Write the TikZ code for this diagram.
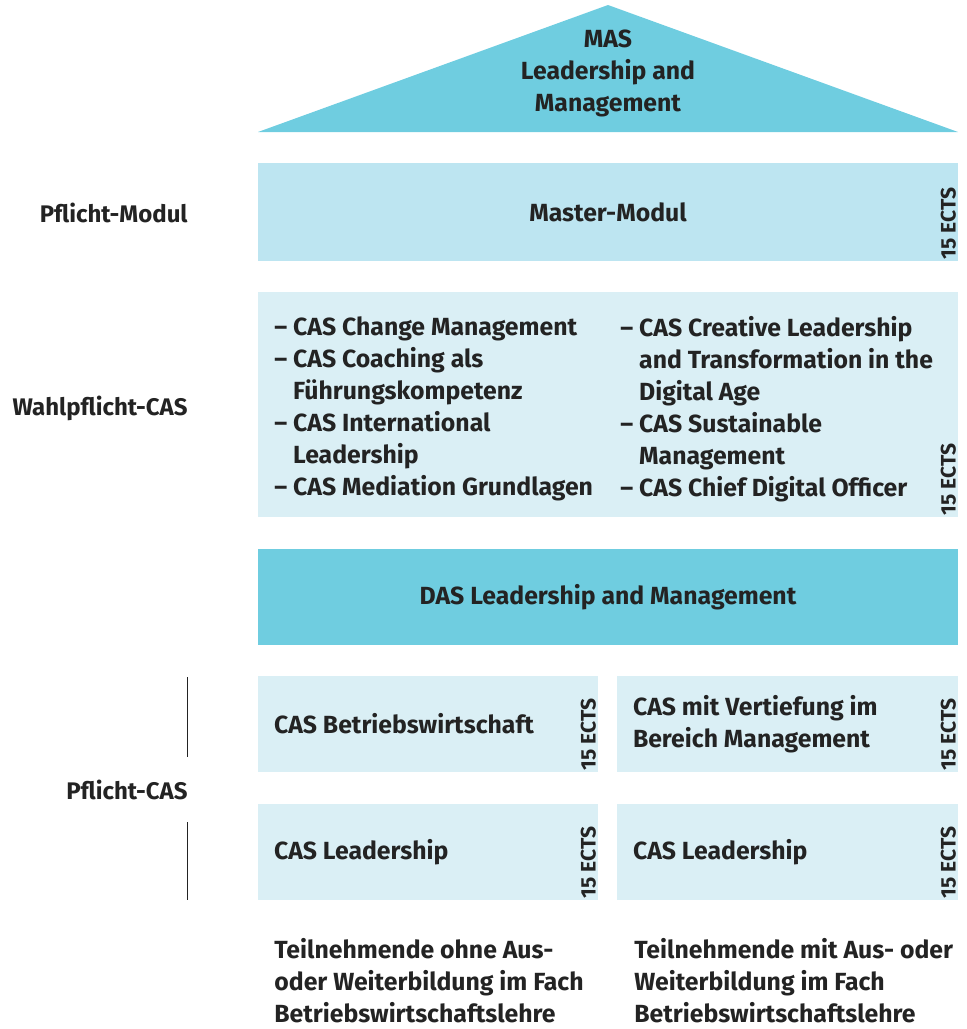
\documentclass[tikz,border=0pt]{standalone}
\usepackage{fontspec}
\setmainfont{Fira Sans}
\usepackage{xcolor}
\usepackage{tikz}
\definecolor{masblue}{RGB}{111,205,224}
\definecolor{modblue}{RGB}{189,229,241}
\definecolor{casblue}{RGB}{218,239,245}
\definecolor{txtgray}{RGB}{35,35,35}

\begin{document}
\begin{tikzpicture}[x=0.5pt,y=-0.5pt,text=txtgray,
  box/.style={rectangle,inner sep=0pt,minimum width=350pt,minimum height=48pt,font=\bfseries\fontsize{12.4}{16}\selectfont},
  halfbox/.style={box,minimum width=170pt},
  ects/.style={rotate=90,anchor=south west,inner sep=1pt,font=\bfseries\fontsize{10.5}{12}\selectfont},
  txt/.style={inner sep=0pt,align=left,font=\bfseries\fontsize{12.4}{16}\selectfont},
  side/.style={txt,anchor=east,font=\bfseries\fontsize{12}{16}\selectfont}]
\useasboundingbox (0,0) rectangle (967,1029);

% roof
\coordinate (RL) at (258,132);
\coordinate (RT) at (608,5);
\coordinate (RR) at (958,132);
\fill[masblue] (RL) -- (RT) -- (RR) -- cycle;
\node (MAS)[txt,align=center] at (608,73) {MAS\\Leadership and\\Management};

% master
\node (MM)[box,fill=modblue,minimum height=49pt] at (608,212) {Master-Modul};
\node (E1)[ects] at (MM.south east) {15 ECTS};
\node (L1)[side] at (188,213) {Pflicht-Modul};

% wahlpflicht
\node (WP)[box,fill=casblue,minimum height=112.5pt] at (608,404.5) {};
\node (WPa)[txt,anchor=north west] at (274,316) {– CAS Change Management\\– CAS Coaching als\\\hphantom{– }Führungskompetenz\\– CAS International\\\hphantom{– }Leadership\\– CAS Mediation Grundlagen};
\node (WPb)[txt,anchor=north west] at (620,316) {– CAS Creative Leadership\\\hphantom{– }and Transformation in the\\\hphantom{– }Digital Age\\– CAS Sustainable\\\hphantom{– }Management\\– CAS Chief Digital Officer};
\node (E2)[ects] at (WP.south east) {15 ECTS};
\node (L2)[side] at (188,408) {Wahlpflicht-CAS};

% das
\node (DAS)[box,fill=masblue] at (608,597) {DAS Leadership and Management};

% pflicht-cas
\node (BW)[halfbox,fill=casblue] at (428,724) {};
\node (VT)[halfbox,fill=casblue,minimum width=170.5pt] at (787.5,724) {};
\node (LA)[halfbox,fill=casblue] at (428,852) {};
\node (LB)[halfbox,fill=casblue,minimum width=170.5pt] at (787.5,852) {};
\node[txt,anchor=west] at ([xshift=8pt]BW.west) {CAS Betriebswirtschaft};
\node[txt,anchor=west] at ([xshift=8pt]VT.west) {CAS mit Vertiefung im\\Bereich Management};
\node[txt,anchor=west] at ([xshift=8pt]LA.west) {CAS Leadership};
\node[txt,anchor=west] at ([xshift=8pt]LB.west) {CAS Leadership};
\node (E3)[ects] at (BW.south east) {15 ECTS};
\node (E4)[ects] at (VT.south east) {15 ECTS};
\node (E5)[ects] at (LA.south east) {15 ECTS};
\node (E6)[ects] at (LB.south east) {15 ECTS};
\node (L3)[side] at (188,790) {Pflicht-CAS};
\coordinate (B1) at (187,677);
\coordinate (B2) at (187,757);
\coordinate (B3) at (187,822);
\coordinate (B4) at (187,900);
\draw[line width=0.5pt,txtgray] (B1) -- (B2);
\draw[line width=0.5pt,txtgray] (B3) -- (B4);

% teilnehmende
\node (TA)[txt,anchor=north west] at (274,938) {Teilnehmende ohne Aus-\\oder Weiterbildung im Fach\\Betriebswirtschaftslehre};
\node (TB)[txt,anchor=north west] at (634,938) {Teilnehmende mit Aus- oder\\Weiterbildung im Fach\\Betriebswirtschaftslehre};
\end{tikzpicture}
\end{document}
